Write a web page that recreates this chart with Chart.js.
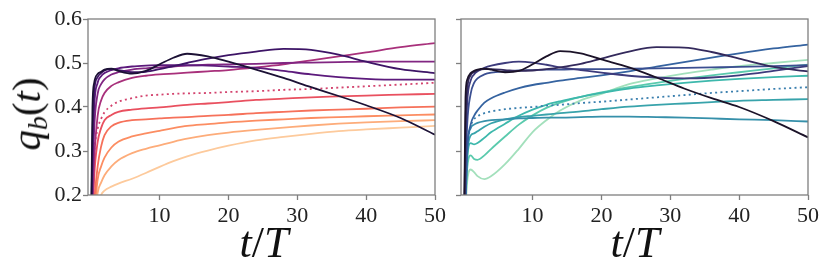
<!DOCTYPE html>
<html>
<head>
<meta charset="utf-8">
<script src="https://cdn.jsdelivr.net/npm/chart.js@4.4.0/dist/chart.umd.min.js"></script>
<style>
    body { margin: 0; width: 830px; height: 277px; background: #fff; position: relative; overflow: hidden; font-family: 'Liberation Serif', serif; }
    canvas { position: absolute; top: 0; }
    #leftChart { left: 0; }
    #rightChart { left: 450px; }
    .lbl { position: absolute; font-style: italic; color: #111; white-space: nowrap; transform: translate(-50%, -50%); line-height: 1; }
    .lbl sub { font-size: 0.68em; vertical-align: -0.25em; }
    .up { font-style: normal; }
    #ylabel { left: 29px; top: 114px; font-size: 41px; transform: translate(-50%, -50%) rotate(-90deg); }
    #xlabelL { left: 264px; top: 243px; font-size: 44px; }
    #xlabelR { left: 635px; top: 243px; font-size: 44px; }
</style>
</head>
<body>
<canvas id="leftChart" width="450" height="277"></canvas>
<canvas id="rightChart" width="380" height="277"></canvas>
<div class="lbl" id="ylabel">q<sub>b</sub><span class="up">(</span>t<span class="up">)</span></div>
<div class="lbl" id="xlabelL">t<span class="up">/</span>T</div>
<div class="lbl" id="xlabelR">t<span class="up">/</span>T</div>
<script>
// common time grid (t/T) for every curve
const times = [0, 0.25, 0.5, 1, 1.5, 2, 3, 4, 6, 8, 10, 12, 14, 17, 20, 24, 28, 32, 36, 40, 45, 50];
const xTicks = [10, 20, 30, 40, 50];
const yTicks = [0.2, 0.3, 0.4, 0.5, 0.6];

// --- left panel (magma) ---
const left0  = [0.05, 0.40, 0.455, 0.475, 0.480, 0.485, 0.487, 0.482, 0.476, 0.482, 0.497, 0.512, 0.521, 0.515, 0.503, 0.485, 0.466, 0.445, 0.425, 0.404, 0.375, 0.337];
const left1  = [0.05, 0.33, 0.435, 0.468, 0.477, 0.483, 0.486, 0.484, 0.479, 0.480, 0.486, 0.493, 0.500, 0.510, 0.518, 0.526, 0.532, 0.530, 0.519, 0.503, 0.486, 0.477];
const left2  = [0.05, 0.27, 0.400, 0.455, 0.470, 0.477, 0.484, 0.488, 0.492, 0.494, 0.495, 0.495, 0.495, 0.494, 0.492, 0.489, 0.482, 0.474, 0.468, 0.464, 0.462, 0.462];
const left3  = [0.05, 0.22, 0.350, 0.430, 0.452, 0.463, 0.474, 0.479, 0.485, 0.488, 0.490, 0.492, 0.494, 0.496, 0.497, 0.498, 0.500, 0.501, 0.502, 0.503, 0.503, 0.503];
const left4  = [0.05, 0.17, 0.280, 0.380, 0.415, 0.432, 0.448, 0.456, 0.466, 0.471, 0.474, 0.476, 0.478, 0.481, 0.484, 0.490, 0.497, 0.506, 0.515, 0.524, 0.536, 0.545];
const left5  = [0.05, 0.18, 0.290, 0.350, 0.373, 0.388, 0.403, 0.412, 0.420, 0.426, 0.428, 0.430, 0.431, 0.432, 0.434, 0.436, 0.439, 0.441, 0.444, 0.447, 0.451, 0.455];
const left6  = [0.05, 0.13, 0.240, 0.320, 0.352, 0.370, 0.382, 0.389, 0.394, 0.397, 0.399, 0.402, 0.405, 0.408, 0.411, 0.416, 0.419, 0.422, 0.424, 0.426, 0.428, 0.430];
const left7  = [0.05, 0.10, 0.180, 0.265, 0.310, 0.336, 0.356, 0.364, 0.370, 0.372, 0.374, 0.376, 0.377, 0.380, 0.382, 0.386, 0.389, 0.392, 0.394, 0.396, 0.399, 0.401];
const left8  = [0.05, 0.08, 0.150, 0.235, 0.265, 0.285, 0.308, 0.321, 0.333, 0.340, 0.346, 0.352, 0.357, 0.361, 0.365, 0.369, 0.372, 0.375, 0.377, 0.379, 0.381, 0.383];
const left9  = [0.05, 0.07, 0.120, 0.205, 0.228, 0.245, 0.265, 0.279, 0.295, 0.305, 0.313, 0.321, 0.328, 0.336, 0.342, 0.348, 0.353, 0.358, 0.362, 0.365, 0.368, 0.370];
const left10 = [0.05, 0.06, 0.090, 0.170, 0.200, 0.210, 0.219, 0.226, 0.237, 0.250, 0.264, 0.277, 0.288, 0.301, 0.312, 0.324, 0.332, 0.339, 0.345, 0.349, 0.353, 0.357];
const leftColors = ['#1c1135', '#3d1466', '#5c1a7c', '#812682', '#a8307b', '#d3436e', '#e9505f', '#f6715a', '#fc8d62', '#fdac7a', '#fdca9c'];

// --- right panel (mako) ---
const right0  = [0.05, 0.42, 0.462, 0.477, 0.482, 0.485, 0.487, 0.485, 0.479, 0.482, 0.497, 0.515, 0.527, 0.522, 0.508, 0.490, 0.467, 0.442, 0.420, 0.400, 0.368, 0.331];
const right1  = [0.05, 0.36, 0.440, 0.472, 0.479, 0.483, 0.486, 0.486, 0.484, 0.482, 0.483, 0.486, 0.490, 0.498, 0.510, 0.526, 0.536, 0.535, 0.525, 0.510, 0.491, 0.481];
const right2  = [0.05, 0.30, 0.410, 0.460, 0.474, 0.481, 0.489, 0.494, 0.500, 0.503, 0.501, 0.496, 0.490, 0.484, 0.478, 0.471, 0.467, 0.465, 0.467, 0.472, 0.482, 0.493];
const right3  = [0.05, 0.24, 0.360, 0.430, 0.455, 0.465, 0.474, 0.478, 0.481, 0.483, 0.484, 0.485, 0.485, 0.486, 0.486, 0.487, 0.488, 0.489, 0.490, 0.491, 0.493, 0.495];
const right4  = [0.05, 0.17, 0.300, 0.360, 0.380, 0.392, 0.410, 0.420, 0.433, 0.443, 0.450, 0.455, 0.460, 0.466, 0.472, 0.481, 0.492, 0.502, 0.512, 0.522, 0.533, 0.542];
const right5  = [0.05, 0.20, 0.300, 0.355, 0.372, 0.379, 0.386, 0.390, 0.395, 0.398, 0.400, 0.403, 0.405, 0.409, 0.412, 0.417, 0.422, 0.427, 0.432, 0.436, 0.441, 0.445];
const right6  = [0.05, 0.20, 0.310, 0.352, 0.360, 0.364, 0.368, 0.370, 0.372, 0.374, 0.375, 0.376, 0.376, 0.377, 0.378, 0.378, 0.377, 0.376, 0.374, 0.372, 0.370, 0.367];
const right7  = [0.05, 0.19, 0.290, 0.335, 0.340, 0.345, 0.355, 0.363, 0.372, 0.377, 0.380, 0.383, 0.386, 0.390, 0.395, 0.401, 0.405, 0.408, 0.411, 0.414, 0.416, 0.418];
const right8  = [0.05, 0.18, 0.280, 0.318, 0.315, 0.318, 0.330, 0.343, 0.362, 0.380, 0.394, 0.405, 0.413, 0.423, 0.432, 0.442, 0.449, 0.455, 0.460, 0.464, 0.468, 0.471];
const right9  = [0.05, 0.17, 0.260, 0.290, 0.282, 0.280, 0.290, 0.305, 0.333, 0.360, 0.381, 0.398, 0.410, 0.423, 0.433, 0.445, 0.455, 0.464, 0.472, 0.479, 0.488, 0.496];
const right10 = [0.05, 0.16, 0.230, 0.258, 0.252, 0.243, 0.236, 0.243, 0.270, 0.305, 0.343, 0.370, 0.392, 0.415, 0.430, 0.452, 0.465, 0.476, 0.485, 0.493, 0.500, 0.507];
const rightColors = ['#1b1228', '#342a5c', '#3d3b7c', '#3b4f91', '#3563a0', '#3a7fae', '#3690aa', '#38a3ab', '#3db8ac', '#5acaad', '#a3e0bc'];

const dottedIndex = 5;
const frameColor = '#7f7f7f';

function makeDatasets(series, colors) {
    return series.map((vals, i) => ({
        data: vals.map((v, j) => ({ x: times[j], y: v })),
        borderColor: colors[i],
        borderWidth: 1.8,
        borderDash: i === dottedIndex ? [2, 3.3] : [],
        pointRadius: 0,
        cubicInterpolationMode: 'monotone',
        fill: false,
        clip: 0
    }));
}

// matplotlib-style box round the axes
const framePlugin = {
    id: 'frame',
    afterDraw(chart) {
        const { ctx, chartArea: a } = chart;
        ctx.save();
        ctx.strokeStyle = frameColor;
        ctx.lineWidth = 1.3;
        ctx.strokeRect(a.left, a.top, a.right - a.left, a.bottom - a.top);
        ctx.restore();
    }
};

function makeChart(id, series, colors, showYLabels, yWidth, rightPad) {
    const tickFont = { family: 'Liberation Serif', size: 22 };
    return new Chart(document.getElementById(id), {
        type: 'line',
        data: { datasets: makeDatasets(series, colors) },
        options: {
            responsive: false,
            animation: false,
            devicePixelRatio: 1,
            layout: { padding: { top: 19, right: rightPad, left: 0, bottom: 0 } },
            plugins: { legend: { display: false }, tooltip: { enabled: false } },
            scales: {
                x: {
                    type: 'linear',
                    min: -0.4,
                    max: 50,
                    afterBuildTicks: s => { s.ticks = xTicks.map(v => ({ value: v })); },
                    afterFit: s => { s.height = 82; },
                    grid: { drawOnChartArea: false, drawTicks: true, tickLength: 5, tickColor: frameColor, tickWidth: 1.3 },
                    border: { display: false },
                    ticks: { font: tickFont, color: '#222', padding: 3, maxRotation: 0 }
                },
                y: {
                    min: 0.2,
                    max: 0.6,
                    afterBuildTicks: s => { s.ticks = yTicks.map(v => ({ value: v })); },
                    afterFit: s => { s.width = yWidth; },
                    grid: { drawOnChartArea: false, drawTicks: true, tickLength: 5, tickColor: frameColor, tickWidth: 1.3 },
                    border: { display: false },
                    ticks: { display: showYLabels, font: tickFont, color: '#222', padding: 1, callback: v => v.toFixed(1) }
                }
            }
        },
        plugins: [framePlugin]
    });
}

makeChart('leftChart',
    [left0, left1, left2, left3, left4, left5, left6, left7, left8, left9, left10],
    leftColors, true, 88, 15);
makeChart('rightChart',
    [right0, right1, right2, right3, right4, right5, right6, right7, right8, right9, right10],
    rightColors, false, 11, 22);
</script>
</body>
</html>
